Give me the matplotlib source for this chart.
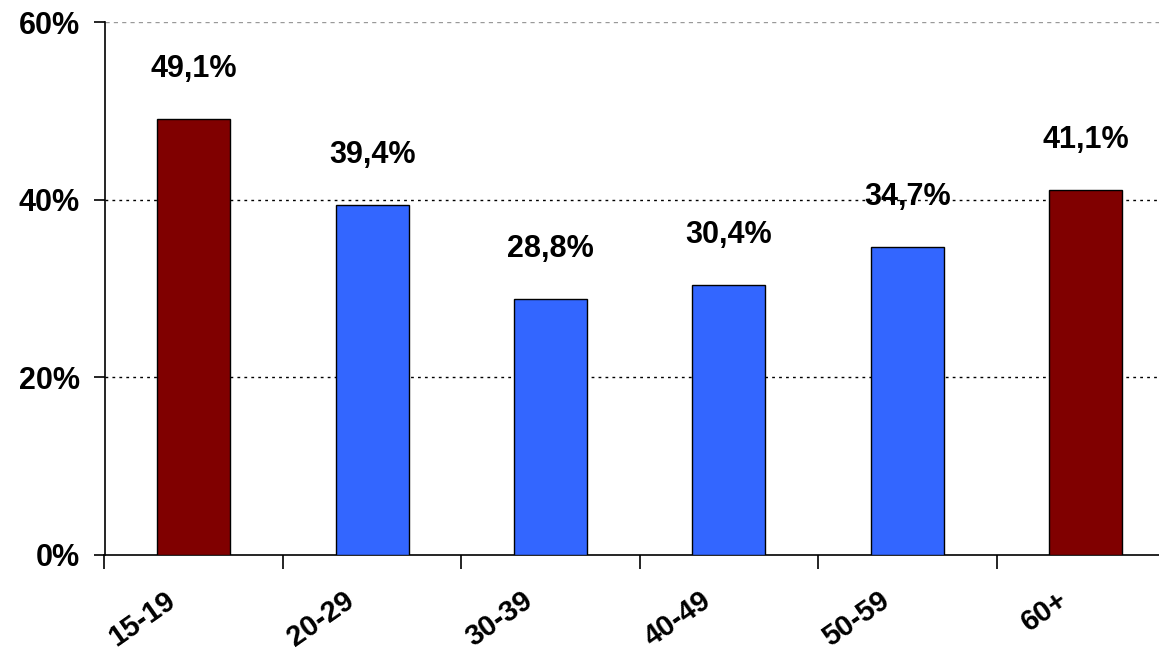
import matplotlib
matplotlib.use("Agg")
import matplotlib.pyplot as plt
import matplotlib.transforms as mtransforms
import numpy as np

categories = ["15-19", "20-29", "30-39", "40-49", "50-59", "60+"]
values = [49.1, 39.4, 28.8, 30.4, 34.7, 41.1]
value_labels = ["49,1%", "39,4%", "28,8%", "30,4%", "34,7%", "41,1%"]
colors = ["#800000", "#3366FF", "#3366FF", "#3366FF", "#3366FF", "#800000"]
yticks = [0, 20, 40, 60]
ytick_labels = ["0%", "20%", "40%", "60%"]

plt.rcParams['font.family'] = ['Liberation Sans', 'DejaVu Sans']
W, H = 1159, 652
fig = plt.figure(figsize=(W/100, H/100), dpi=100)
left, right = 104.5, 1159
bottom, top = 555, 22
ax = fig.add_axes([left/W, 1 - bottom/H, (right-left)/W, (bottom-top)/H])

spacing = 178.4
x = np.arange(len(categories))
ax.bar(x, values, width=0.41, color=colors, edgecolor="black", linewidth=1.0, zorder=3)

for xi, v, lab in zip(x, values, value_labels):
    ax.text(xi, v + 5.6, lab, ha="center", va="center", fontsize=22, fontweight="bold", zorder=4)

for yv in [20, 40]:
    ax.axhline(yv, color="black", linestyle=(0, (2, 3)), linewidth=1.0, zorder=1)
ax.axhline(60, color="#999999", linestyle=(0, (3, 3)), linewidth=1.0, zorder=1)

ax.set_yticks(yticks)
ax.set_yticklabels(ytick_labels, fontsize=22, fontweight="bold")
ax.tick_params(axis="y", length=8, width=1.2, pad=10, direction="out")

ax.set_xticks(np.arange(len(categories) + 1) - 0.5)
ax.set_xticklabels([])
ax.tick_params(axis="x", length=10, width=1.2, direction="out")

ax.set_xlim(-0.5, -0.5 + (right-left)/spacing)
ax.set_ylim(0, 60)

off = mtransforms.ScaledTranslation(-29/100, -31/100, fig.dpi_scale_trans)
for xi, cat in zip(x, categories):
    ax.text(xi, 0, cat, transform=ax.transData + off, rotation=35, rotation_mode="anchor",
            ha="right", va="top", fontsize=21, fontweight="bold", clip_on=False)

for s in ["top", "right"]:
    ax.spines[s].set_visible(False)
ax.spines["left"].set_linewidth(1.2)
ax.spines["bottom"].set_linewidth(1.2)

fig.savefig("out.png", dpi=100)
